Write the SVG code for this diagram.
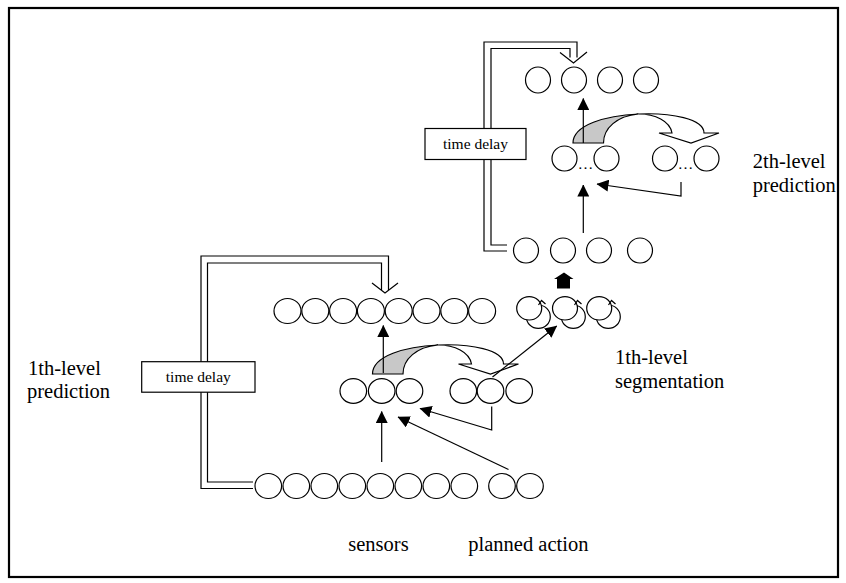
<svg xmlns="http://www.w3.org/2000/svg" width="846" height="583" viewBox="0 0 846 583">
<style>
.c{fill:#fff;stroke:#000;stroke-width:1.2}
.ln{fill:none;stroke:#000;stroke-width:1.2}
.box{fill:#fff;stroke:#000;stroke-width:1.2}
.t{font-family:'Liberation Serif','Times New Roman',serif;font-size:20.5px;fill:#000}
.td{font-family:'Liberation Serif','Times New Roman',serif;font-size:15.5px;fill:#000}
.gray{fill:#c8c8c8;stroke:#000;stroke-width:1.2}
</style>
<defs>
<marker id="ah" viewBox="0 0 12 12" markerWidth="12" markerHeight="12" refX="11.5" refY="6" orient="auto" markerUnits="userSpaceOnUse">
<path d="M0,0 L12,6 L0,12 Z" fill="#000"/>
</marker>
<g id="curved">
<path class="gray" d="M0,0 C0,-18 32.75,-27.5 65.5,-29 C44,-27 30.5,-15 30.5,0 Z"/>
<path class="c" d="M65.5,-29 C98.25,-30.5 131,-24 131,-10 L146,-10 L118,0 L86,-10 L99,-10 C97,-22 82,-29 65.5,-29 Z"/>
</g>
</defs>
<rect x="9" y="8" width="829" height="569" fill="#fff" stroke="#000" stroke-width="2.2"/>

<g id="connectors">
<path class="ln" d="M507,251 L484,251 L484,42 L577,42 L577,57.5"/>
<path class="ln" d="M507,245 L491,245 L491,48.5 L570,48.5 L570,57.5"/>
<polyline class="ln" points="560,52.5 573.5,63 587,52"/>
<path class="ln" d="M253,488.5 L201,488.5 L201,256 L388.5,256 L388.5,290"/>
<path class="ln" d="M253,482 L207.5,482 L207.5,263 L381.5,263 L381.5,290"/>
<polyline class="ln" points="372,283 385,293 398,283"/>
<use href="#curved" transform="translate(573,143)"/>
<use href="#curved" transform="translate(372.5,374)"/>
<path class="ln" d="M583.3,143 L583.3,98.5" marker-end="url(#ah)"/>
<path class="ln" d="M583.3,233 L583.3,185" marker-end="url(#ah)"/>
<path class="ln" d="M681,182 L681,196 L597,184" marker-end="url(#ah)"/>
<polygon points="564,272.5 573.5,279 570,279 570,288.5 557,288.5 557,279 554,279" fill="#000"/>
<path class="ln" d="M492.5,377 L556.7,326" marker-end="url(#ah)"/>
<path class="ln" d="M383.3,373 L383.3,325.5" marker-end="url(#ah)"/>
<path class="ln" d="M381.7,462 L381.7,411.5" marker-end="url(#ah)"/>
<path class="ln" d="M508.5,469.5 L398,417" marker-end="url(#ah)"/>
<path class="ln" d="M491.7,406.5 L491.7,430 L420,408.5" marker-end="url(#ah)"/>
</g>

<g id="l2-top-row">
<ellipse class="c" cx="538" cy="80" rx="12.5" ry="13"/>
<ellipse class="c" cx="574" cy="80" rx="12.5" ry="13"/>
<ellipse class="c" cx="610" cy="80" rx="12.5" ry="13"/>
<ellipse class="c" cx="646" cy="80" rx="12.5" ry="13"/>
</g>
<g id="l2-mid-row">
<ellipse class="c" cx="564.5" cy="158.5" rx="12.5" ry="12.5"/>
<ellipse class="c" cx="606.5" cy="158.5" rx="12.5" ry="12.5"/>
<text class="td" x="585.5" y="169" text-anchor="middle">…</text>
<ellipse class="c" cx="665" cy="158.5" rx="12.5" ry="12.5"/>
<ellipse class="c" cx="706.5" cy="158.5" rx="12.5" ry="12.5"/>
<text class="td" x="685.5" y="169" text-anchor="middle">…</text>
</g>
<g id="l2-input-row">
<ellipse class="c" cx="526" cy="250.5" rx="12.5" ry="12.5"/>
<ellipse class="c" cx="563" cy="250.5" rx="12.5" ry="12.5"/>
<ellipse class="c" cx="599" cy="250.5" rx="12.5" ry="12.5"/>
<ellipse class="c" cx="640" cy="250.5" rx="12.5" ry="12.5"/>
</g>
<g id="delay-2">
<rect class="box" x="425" y="128.5" width="101" height="31"/>
<text class="td" x="475.5" y="149" text-anchor="middle">time delay</text>
</g>
<g id="segmentation-row">
<ellipse class="c" cx="538.3" cy="316.7" rx="12" ry="11.7"/>
<ellipse class="c" cx="529.2" cy="308.3" rx="12.5" ry="11.7"/>
<polyline class="ln" points="538.5,305 541.5,300.5 545.5,304"/>
<ellipse class="c" cx="573.3" cy="316.7" rx="12" ry="11.7"/>
<ellipse class="c" cx="565" cy="308.3" rx="12.5" ry="11.7"/>
<polyline class="ln" points="574.5,305 577.5,300.5 581.5,304"/>
<ellipse class="c" cx="608.3" cy="316.7" rx="12" ry="11.7"/>
<ellipse class="c" cx="599.2" cy="308.3" rx="12.5" ry="11.7"/>
<polyline class="ln" points="608.5,305 611.5,300.5 615.5,304"/>
</g>
<g id="l1-top-row">
<ellipse class="c" cx="287.5" cy="311" rx="13.5" ry="12.5"/>
<ellipse class="c" cx="315.3" cy="311" rx="13.5" ry="12.5"/>
<ellipse class="c" cx="343.1" cy="311" rx="13.5" ry="12.5"/>
<ellipse class="c" cx="370.9" cy="311" rx="13.5" ry="12.5"/>
<ellipse class="c" cx="398.7" cy="311" rx="13.5" ry="12.5"/>
<ellipse class="c" cx="426.5" cy="311" rx="13.5" ry="12.5"/>
<ellipse class="c" cx="454.3" cy="311" rx="13.5" ry="12.5"/>
<ellipse class="c" cx="482.1" cy="311" rx="13.5" ry="12.5"/>
</g>
<g id="l1-mid-row">
<ellipse class="c" cx="353.3" cy="391" rx="13.3" ry="12.4"/>
<ellipse class="c" cx="381.7" cy="391" rx="13.3" ry="12.4"/>
<ellipse class="c" cx="409.5" cy="391" rx="13.3" ry="12.4"/>
<ellipse class="c" cx="463.3" cy="391" rx="13.3" ry="12.4"/>
<ellipse class="c" cx="490.5" cy="391" rx="13.3" ry="12.4"/>
<ellipse class="c" cx="519.2" cy="391" rx="13.3" ry="12.4"/>
</g>
<g id="sensor-row">
<ellipse class="c" cx="268.3" cy="486" rx="13.3" ry="12.5"/>
<ellipse class="c" cx="296.3" cy="486" rx="13.3" ry="12.5"/>
<ellipse class="c" cx="324.3" cy="486" rx="13.3" ry="12.5"/>
<ellipse class="c" cx="352.3" cy="486" rx="13.3" ry="12.5"/>
<ellipse class="c" cx="380.3" cy="486" rx="13.3" ry="12.5"/>
<ellipse class="c" cx="408.3" cy="486" rx="13.3" ry="12.5"/>
<ellipse class="c" cx="436.3" cy="486" rx="13.3" ry="12.5"/>
<ellipse class="c" cx="464.3" cy="486" rx="13.3" ry="12.5"/>
<ellipse class="c" cx="502" cy="486" rx="13.3" ry="12.5"/>
<ellipse class="c" cx="530" cy="486" rx="13.3" ry="12.5"/>
</g>
<g id="delay-1">
<rect class="box" x="141.7" y="361.7" width="113.3" height="30.5"/>
<text class="td" x="198.3" y="382" text-anchor="middle">time delay</text>
</g>
<g id="label-2th">
<text class="t" x="752.7" y="168">2th-level</text>
<text class="t" x="752.7" y="191.5">prediction</text>
</g>
<g id="label-1th-pred">
<text class="t" x="28" y="375">1th-level</text>
<text class="t" x="27" y="398.3">prediction</text>
</g>
<g id="label-1th-seg">
<text class="t" x="615" y="364">1th-level</text>
<text class="t" x="615" y="387.5">segmentation</text>
</g>
<g id="label-sensors"><text class="t" x="348.3" y="551">sensors</text></g>
<g id="label-action"><text class="t" x="468.3" y="551">planned action</text></g>
</svg>
